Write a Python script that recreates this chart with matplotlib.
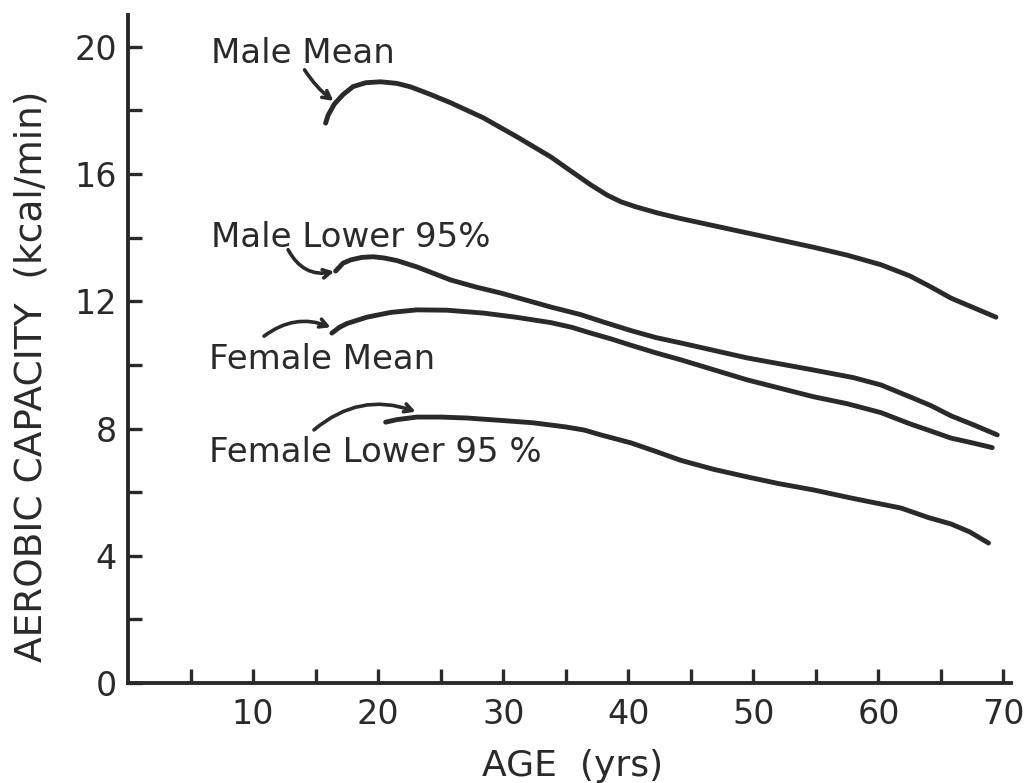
import matplotlib
matplotlib.use("Agg")
import matplotlib.pyplot as plt

# ---- data ----
male_mean_age = [15.8, 16.0, 16.5, 17.2, 18.0, 19.0, 20.2, 21.5, 22.6, 24.2, 25.8, 28.4, 31.1,
                 33.8, 35.5, 37.0, 38.3, 39.4, 40.6, 42.3, 44.2, 49.5, 54.8, 57.5, 60.2, 62.5, 64.2,
                 65.8, 67.6, 69.4]
male_mean_val = [17.6, 17.85, 18.2, 18.5, 18.75, 18.87, 18.9, 18.85, 18.74, 18.5, 18.24, 17.77, 17.17,
                 16.54, 16.07, 15.66, 15.34, 15.13, 14.97, 14.78, 14.6, 14.15, 13.7, 13.45, 13.15, 12.8, 12.45,
                 12.1, 11.8, 11.5]

male_low_age = [16.6, 17.2, 17.8, 18.7, 19.6, 20.5, 21.5, 23.1, 25.8, 27.8, 29.8, 33.8, 36.2,
                38.0, 40.2, 42.2, 44.2, 49.5, 54.8, 58.0, 60.2, 62.5, 64.2, 65.8, 67.7, 69.5]
male_low_val = [12.95, 13.2, 13.3, 13.38, 13.4, 13.36, 13.28, 13.08, 12.67, 12.45, 12.26, 11.82, 11.58,
                11.35, 11.08, 10.86, 10.69, 10.22, 9.84, 9.6, 9.37, 9.0, 8.72, 8.4, 8.1, 7.8]

female_mean_age = [16.3, 16.9, 17.5, 19.1, 21.0, 23.1, 25.5, 28.4, 31.0, 33.8, 35.5, 37.0, 38.6,
                   40.2, 42.2, 44.2, 49.5, 54.8, 57.5, 60.2, 62.5, 64.2, 65.8, 67.5, 69.1]
female_mean_val = [11.0, 11.18, 11.3, 11.5, 11.65, 11.73, 11.72, 11.63, 11.5, 11.33, 11.18, 11.0, 10.82,
                   10.62, 10.38, 10.16, 9.53, 9.0, 8.78, 8.5, 8.15, 7.92, 7.7, 7.55, 7.4]

female_low_age = [20.6, 21.5, 23.1, 25.0, 27.1, 30.0, 32.4, 35.0, 36.5, 37.8, 40.2, 42.2, 44.2,
                  46.8, 49.5, 52.0, 54.8, 58.0, 61.8, 64.0, 65.8, 67.3, 68.8]
female_low_val = [8.2, 8.28, 8.36, 8.36, 8.33, 8.25, 8.18, 8.05, 7.95, 7.8, 7.55, 7.28, 7.0,
                  6.72, 6.48, 6.27, 6.07, 5.8, 5.5, 5.2, 5.0, 4.75, 4.4]

x_major = [10, 20, 30, 40, 50, 60, 70]
y_major = [0, 4, 8, 12, 16, 20]
labels = ["Male Mean", "Male Lower 95%", "Female Mean", "Female Lower 95 %"]

INK = "#2a2a2a"
plt.rcParams['font.family'] = ['DejaVu Sans']

fig = plt.figure(figsize=(10.26, 7.83), dpi=100)
ax = fig.add_axes([128/1026, 1 - 683/783, 883/1026, 668/783])

for a, v in [(male_mean_age, male_mean_val), (male_low_age, male_low_val),
             (female_mean_age, female_mean_val), (female_low_age, female_low_val)]:
    ax.plot(a, v, color=INK, lw=3.5, solid_capstyle='round', solid_joinstyle='round')

ax.set_xlim(0, 70.6)
ax.set_ylim(0, 21)

for s in ['top', 'right']:
    ax.spines[s].set_visible(False)
for s in ['left', 'bottom']:
    ax.spines[s].set_linewidth(2.8)
    ax.spines[s].set_color(INK)

ax.set_xticks(x_major)
ax.set_xticks(list(range(5, 71, 10)), minor=True)
ax.set_yticks(y_major)
ax.set_yticks([2, 6, 10, 14, 18], minor=True)
ax.tick_params(which='both', direction='in', length=10, width=2.4, color=INK,
               labelsize=24, labelcolor=INK)
ax.tick_params(axis='x', which='major', pad=11)
ax.tick_params(axis='y', which='major', pad=8)

ax.set_xlabel("AGE  (yrs)", fontsize=26, color=INK)
ax.xaxis.set_label_coords((573 - 128) / 883, (683 - 766) / 668)
ax.xaxis.label.set_va('center')
ax.set_ylabel("AEROBIC CAPACITY  (kcal/min)", fontsize=27, color=INK)
ax.yaxis.set_label_coords((32 - 128) / 883, (683 - 376) / 668)
ax.yaxis.label.set_va('center')

# series labels
tk = dict(fontsize=24.5, color=INK, va='center', ha='left')
ax.text(6.6, 19.78, labels[0], **tk)
ax.text(6.6, 14.0, labels[1], **tk)
ax.text(6.45, 10.16, labels[2], **tk)
ax.text(6.45, 7.26, labels[3], **tk)

ap = dict(arrowstyle='->,head_length=0.55,head_width=0.3', color=INK, lw=2.6)
ax.annotate("", xy=(16.6, 18.25), xytext=(14.0, 19.35),
            arrowprops=dict(connectionstyle='arc3,rad=0.1', **ap))
ax.annotate("", xy=(16.7, 12.95), xytext=(12.7, 13.7),
            arrowprops=dict(connectionstyle='arc3,rad=0.4', **ap))
ax.annotate("", xy=(16.4, 11.15), xytext=(10.7, 10.85),
            arrowprops=dict(connectionstyle='arc3,rad=-0.3', **ap))
ax.annotate("", xy=(23.2, 8.5), xytext=(14.7, 7.9),
            arrowprops=dict(connectionstyle='arc3,rad=-0.3', **ap))

fig.savefig("out.png", dpi=100)
